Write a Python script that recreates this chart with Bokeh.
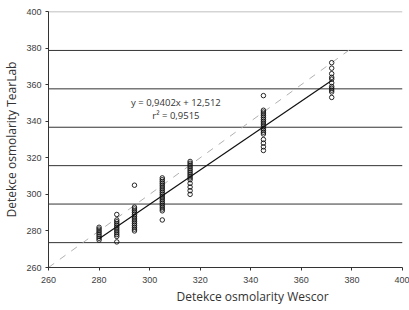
from bokeh.plotting import figure
from bokeh.models import Label, FixedTicker, Title
from bokeh.embed import file_html
from bokeh.resources import INLINE

# Data
wescor_levels = [280, 287, 294, 305, 316, 345, 372]
tearlab_280 = [275, 276, 277, 278, 279, 280, 281, 282]
tearlab_287 = [274, 277, 278, 279, 280, 281, 282, 283, 284, 285, 286, 289]
tearlab_294 = [280, 281, 282, 283, 284, 285, 286, 287, 288, 289, 290, 291, 292, 293, 305]
tearlab_305 = [286, 291, 292, 293, 294, 295, 296, 297, 298, 299, 300, 301, 302, 303, 304, 305, 306, 307, 308, 309]
tearlab_316 = [300, 302, 304, 306, 308, 309, 310, 311, 312, 313, 314, 315, 316, 317, 318]
tearlab_345 = [324, 326, 328, 330, 333, 334, 335, 336, 337, 338, 339, 340, 341, 342, 343, 344, 345, 346, 354]
tearlab_372 = [353, 356, 357, 358, 359, 361, 363, 364, 366, 369, 372]

slope = 0.9402
intercept = 12.512
identity_x = [260, 380]
ref_lines_y = [273.6, 294.7, 315.7, 336.7, 357.7, 378.7]
ticks = [260, 280, 300, 320, 340, 360, 380, 400]
equation_text = "y = 0,9402x + 12,512"
r2_text = "r\u00b2 = 0,9515"
x_title = "Detekce osmolarity Wescor"
y_title = "Detekce osmolarity TearLab"

groups = [tearlab_280, tearlab_287, tearlab_294, tearlab_305, tearlab_316, tearlab_345, tearlab_372]
xs, ys = [], []
for lvl, vals in zip(wescor_levels, groups):
    xs += [lvl] * len(vals)
    ys += vals

p = figure(width=409, height=310, x_range=(260, 400), y_range=(260, 400),
           output_backend="svg", toolbar_location=None,
           min_border_left=41, min_border_right=7, min_border_top=11, min_border_bottom=43)
p.xgrid.visible = False
p.ygrid.visible = False
p.outline_line_color = None
p.background_fill_color = "white"
p.border_fill_color = "white"

for ax in (p.xaxis, p.yaxis):
    ax.ticker = FixedTicker(ticks=ticks)
    ax.minor_tick_line_color = None
    ax.major_tick_in = 0
    ax.major_tick_out = 3
    ax.axis_line_color = "#333333"
    ax.major_tick_line_color = "#333333"
    ax.major_label_text_font = "Liberation Sans"
    ax.major_label_text_font_size = "9px"
    ax.major_label_text_color = "#404040"
p.xaxis.major_label_standoff = 6
p.yaxis.major_label_standoff = 4

p.yaxis.axis_label = y_title
p.yaxis.axis_label_standoff = 3
p.yaxis.axis_label_text_font = "Open Sans"
p.yaxis.axis_label_text_font_size = "12px"
p.yaxis.axis_label_text_font_style = "normal"
p.yaxis.axis_label_text_color = "#333333"

xt = Title(text=x_title, align="left", offset=128, standoff=1,
           text_font="Open Sans", text_font_size="12px", text_font_style="normal", text_color="#333333")
p.add_layout(xt, "below")

# reference horizontal lines and top border
p.segment(x0=[260] * len(ref_lines_y), x1=[400] * len(ref_lines_y), y0=ref_lines_y, y1=ref_lines_y,
          line_color="#333333", line_width=1)
p.segment(x0=[260], x1=[400], y0=[400], y1=[400], line_color="#aaaaaa", line_width=1.5)

# identity line
p.line(identity_x, identity_x, line_color="#b0b0b0", line_width=1, line_dash="7 7")

# regression line
x_lo, x_hi = min(xs), max(xs)
p.line([x_lo, x_hi], [slope * x_lo + intercept, slope * x_hi + intercept], line_color="#111111", line_width=1.2)

p.scatter(xs, ys, marker="circle", size=4.5, fill_color=None, line_color="#111111", line_width=0.9)

p.add_layout(Label(x=310.4, y=350.2, text=equation_text, text_align="center", text_baseline="middle",
                   text_font="Open Sans", text_font_size="9.5px", text_color="#333333"))
p.add_layout(Label(x=310.4, y=342.9, text=r2_text, text_align="center", text_baseline="middle",
                   text_font="Open Sans", text_font_size="9.5px", text_color="#333333"))

open("out.html", "w").write(file_html(p, INLINE))
